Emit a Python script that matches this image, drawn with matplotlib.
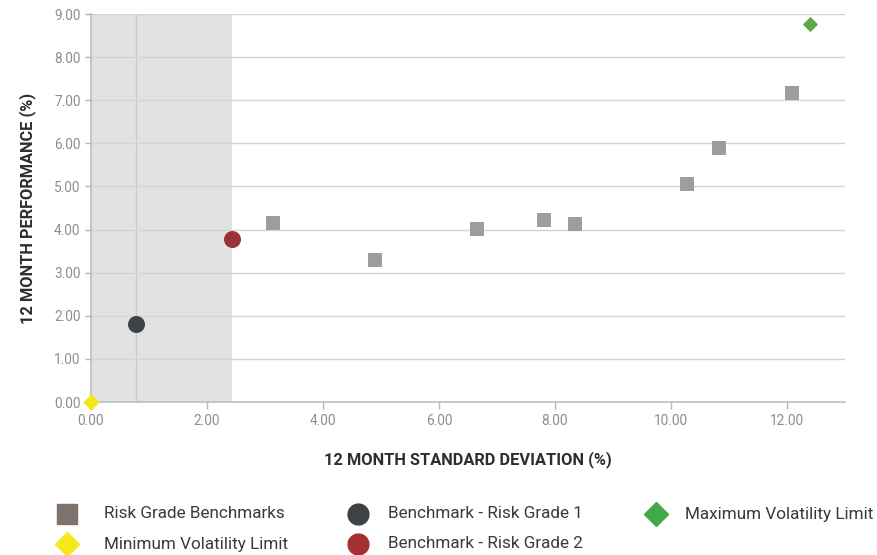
import matplotlib
matplotlib.use("Agg")
import matplotlib.pyplot as plt
from matplotlib.lines import Line2D

plt.rcParams['font.family'] = ['Roboto', 'DejaVu Sans']

# Data
rg_sd = [3.14, 4.90, 6.66, 7.81, 8.34, 10.28, 10.83, 12.09]
rg_perf = [4.15, 3.29, 4.01, 4.22, 4.13, 5.06, 5.89, 7.17]
rg1_sd, rg1_perf = [0.78], [1.82]
rg2_sd, rg2_perf = [2.43], [3.78]
minvol_sd, minvol_perf = [0.0], [0.0]
maxvol_sd, maxvol_perf = [12.40], [8.77]
x_ticks = [0, 2, 4, 6, 8, 10, 12]
y_ticks = [0, 1, 2, 3, 4, 5, 6, 7, 8, 9]

fig = plt.figure(figsize=(8.77, 5.55), dpi=100)
ax = fig.add_axes([91/877, 1-402/555, (845-91)/877, (402-14)/555])

ax.set_xlim(0, 13.0)
ax.set_ylim(0, 9)

# shaded region from 0 to RG2 sd, line at RG1 sd
ax.axvspan(minvol_sd[0], rg2_sd[0], color='#e1e2e2', zorder=0, lw=0)
ax.axvline(rg1_sd[0], color='#c8c9c9', lw=1, zorder=1)

for y in y_ticks[1:]:
    ax.axhline(y, color='#d4d4d4', lw=1, zorder=1)

ax.scatter(rg_sd, rg_perf, marker='s', s=95, color='#9c9d9e', zorder=3, lw=0)
ax.scatter(rg1_sd, rg1_perf, marker='o', s=150, color='#3f4244', zorder=3, lw=0)
ax.scatter(rg2_sd, rg2_perf, marker='o', s=150, color='#9a3336', zorder=3, lw=0)
ax.scatter(minvol_sd, minvol_perf, marker='D', s=70, color='#f2e71c', zorder=4, lw=0, clip_on=False)
ax.scatter(maxvol_sd, maxvol_perf, marker='D', s=60, color='#5fa84a', zorder=3, lw=0)

ax.set_xticks(x_ticks)
ax.set_xticklabels([f"{v:.2f}" for v in x_ticks])
ax.set_yticks(y_ticks)
ax.set_yticklabels([f"{v:.2f}" for v in y_ticks])
ax.tick_params(axis='both', colors='#b5b5b5', labelcolor='#8e8e8e', labelsize=9.8, length=5, width=1)
ax.tick_params(axis='y', length=4)

for s in ['top', 'right']:
    ax.spines[s].set_visible(False)
for s in ['left', 'bottom']:
    ax.spines[s].set_color('#bdbdbd')
    ax.spines[s].set_linewidth(1.2)

ax.set_xlabel('12 MONTH STANDARD DEVIATION (%)', fontsize=11.8, fontweight='bold', color='#2e2e2e', labelpad=17)
ax.set_ylabel('12 MONTH PERFORMANCE (%)', fontsize=11.8, fontweight='bold', color='#2e2e2e', labelpad=13)

# Legend (manual layout)
items = [
    ('s', '#7e726c', 14, 'Risk Grade Benchmarks', 67, 514, 104),
    ('D', '#f7e819', 12, 'Minimum Volatility Limit', 67, 544, 104),
    ('o', '#3f4244', 15, 'Benchmark - Risk Grade 1', 358, 514, 388),
    ('o', '#a53033', 15, 'Benchmark - Risk Grade 2', 358, 544, 388),
    ('D', '#42a948', 12, 'Maximum Volatility Limit', 656, 514, 685),
]
for m, c, ms, lab, mx, my, tx in items:
    fig.add_artist(Line2D([mx/877], [1-my/555], marker=m, color=c, markersize=ms,
                          lw=0, transform=fig.transFigure))
    fig.text(tx/877, 1-my/555, lab, fontsize=12.3, color='#3a3a3a', va='center', ha='left')

fig.savefig('out.png', dpi=100)
